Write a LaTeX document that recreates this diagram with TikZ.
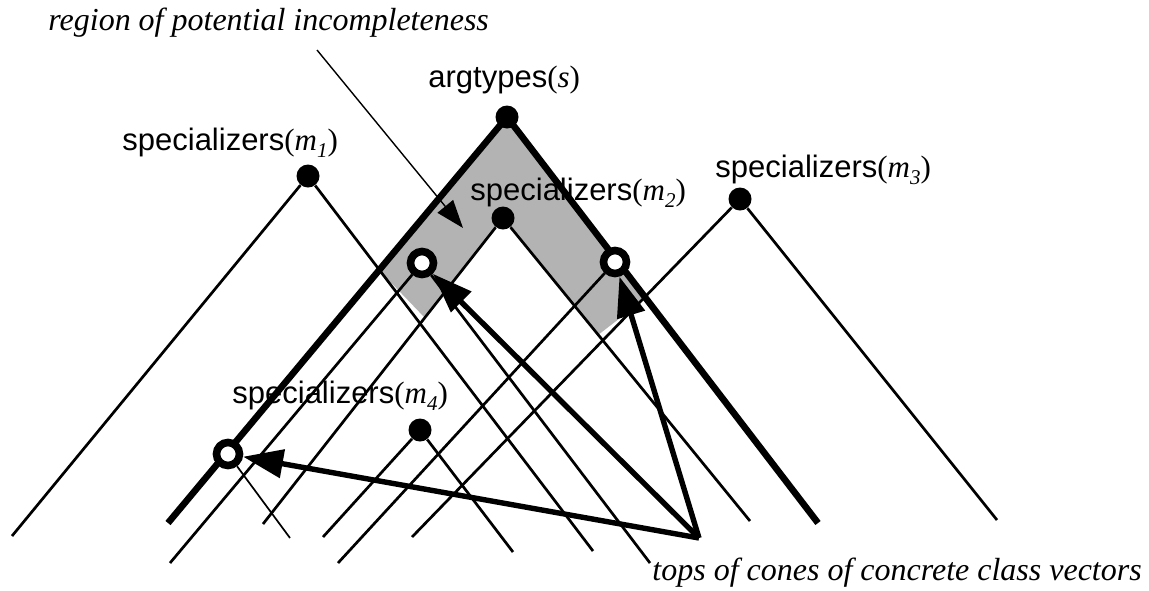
\documentclass[tikz,border=0pt]{standalone}
\usepackage{fontspec}
\setmainfont{Liberation Sans}
\newfontfamily\timesfont{Liberation Serif}
\usetikzlibrary{arrows.meta}
\definecolor{LineBlack}{HTML}{000000}
\definecolor{RegionGrey}{HTML}{B3B3B3}
\newcommand{\mvar}[1]{{\timesfont(\textit{m}\raisebox{-3.5pt}{\fontsize{10.5}{10.5}\selectfont\textit{#1}})}}
\pgfdeclarelayer{back}
\pgfsetlayers{back,main}

\begin{document}
\begin{tikzpicture}[x=0.5pt,y=-0.5pt,
    leg/.style={LineBlack, line width=1.35pt},
    bound/.style={LineBlack, line width=3.3pt},
    hit/.style={LineBlack, line width=2.7pt, -{Triangle[length=20pt,width=14pt]}},
    dot/.style={circle, fill=LineBlack, inner sep=0pt, minimum size=11.5pt},
    ring/.style={circle, draw=LineBlack, fill=white, line width=3.8pt, inner sep=0pt, minimum size=11.5pt},
    lbl/.style={anchor=base west, inner sep=0pt, font=\fontsize{15.5}{18}\selectfont},
    note/.style={anchor=base west, inner sep=0pt, font=\fontsize{16}{19}\selectfont\timesfont\itshape}]
  \useasboundingbox (0,0) rectangle (1149,590);

  % tops of the cones
  \node[dot] (argtop) at (507,117) {};
  \node[dot] (specA) at (308,176) {};
  \node[dot] (specB) at (503,218) {};
  \node[dot] (specC) at (740,199) {};
  \node[dot] (specD) at (420,430) {};
  \node[ring] (openA) at (422,263) {};
  \node[ring] (openB) at (615,262) {};
  \node[ring] (openC) at (228,454) {};

  % feet of the cones
  \coordinate (argL) at (168,523);
  \coordinate (argR) at (818,523);
  \coordinate (specAL) at (12,536);
  \coordinate (specAR) at (593,551);
  \coordinate (specBL) at (263,524);
  \coordinate (specBR) at (750,521);
  \coordinate (specCL) at (412,537);
  \coordinate (specCR) at (997,520);
  \coordinate (specDL) at (323,537);
  \coordinate (specDR) at (513,552);
  \coordinate (openAL) at (170,563);
  \coordinate (openAR) at (650,563);
  \coordinate (openBL) at (338,563);
  \coordinate (openCR) at (290,538);
  \coordinate (src) at (699,538);
  \coordinate (leadfrom) at (317,50);
  \coordinate (leadto) at (463,228);

  % labels
  \node[lbl] (argtext) at (428,87) {argtypes{\timesfont(\textit{s})}};
  \node[lbl] (specAtext) at (122,150) {specializers\mvar{1}};
  \node[lbl] (specBtext) at (470,200) {specializers\mvar{2}};
  \node[lbl] (specCtext) at (715,177) {specializers\mvar{3}};
  \node[lbl] (specDtext) at (232,403) {specializers\mvar{4}};
  \node[note] (regiontext) at (48,30) {region of potential incompleteness};
  \node[note] (topstext) at (652,580) {tops of cones of concrete class vectors};

  \begin{pgfonlayer}{back}
    \fill[RegionGrey] (argtop.center) -- (379,270) -- (425,318) -- (specB.center)
      -- (598,335) -- (646,298) -- cycle;
    \draw[bound] (argtop.center) -- (argL);
    \draw[bound] (argtop.center) -- (argR);
    \foreach \a/\b in {specA/specAL, specA/specAR, specB/specBL, specB/specBR,
        specC/specCL, specC/specCR, specD/specDL, specD/specDR,
        openA/openAL, openA/openAR, openB/openBL}
      \draw[leg] (\a) -- (\b);
    \draw[LineBlack, line width=0.85pt] (openC) -- (openCR);
    \draw[hit] (src) -- (openA);
    \draw[hit] (src) -- (openB);
    \draw[hit] (src) -- (openC);
    \draw[LineBlack, line width=0.7pt, -{Triangle[length=14pt,width=10pt]}] (leadfrom) -- (leadto);
  \end{pgfonlayer}
\end{tikzpicture}
\end{document}
